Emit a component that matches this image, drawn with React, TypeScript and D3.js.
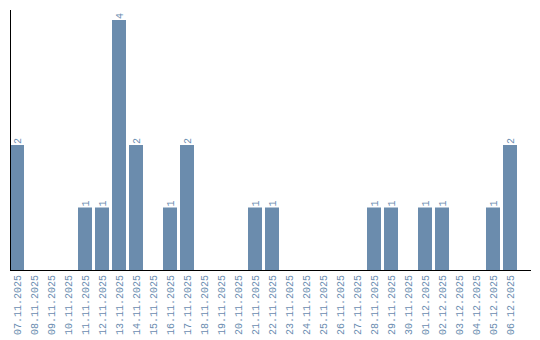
import React from "react";
import * as d3 from "d3";

const dates = [
  "07.11.2025", "08.11.2025", "09.11.2025", "10.11.2025", "11.11.2025",
  "12.11.2025", "13.11.2025", "14.11.2025", "15.11.2025", "16.11.2025",
  "17.11.2025", "18.11.2025", "19.11.2025", "20.11.2025", "21.11.2025",
  "22.11.2025", "23.11.2025", "24.11.2025", "25.11.2025", "26.11.2025",
  "27.11.2025", "28.11.2025", "29.11.2025", "30.11.2025", "01.12.2025",
  "02.12.2025", "03.12.2025", "04.12.2025", "05.12.2025", "06.12.2025",
];
const counts = [2, 0, 0, 0, 1, 1, 4, 2, 0, 1, 2, 0, 0, 0, 1, 1, 0, 0, 0, 0, 0, 1, 1, 0, 1, 1, 0, 0, 1, 2];

const W = 540;
const H = 340;
const left = 10;
const baseY = 270;
const topY = 10;
const barColor = "#6b8cad";
const textColor = "#6a8cb0";
const font = "'Liberation Mono', monospace";

export default function App() {
  const x = d3.scaleBand<string>().domain(dates).range([left, 517]).paddingInner(3 / 17).paddingOuter(0);
  const y = d3.scaleLinear().domain([0, 4.16]).range([baseY, topY]);
  return (
    <svg width={W} height={H} style={{ position: "absolute", left: 0, top: 0 }}>
      {dates.map((d, i) => {
        const v = counts[i];
        if (!v) return null;
        const bx = x(d)!;
        const by = y(v);
        return (
          <g key={d}>
            <rect x={bx} y={by} width={x.bandwidth()} height={baseY - by} fill={barColor} />
            <text
              transform={`translate(${bx + x.bandwidth() / 2},${by - 1}) rotate(-90)`}
              dy="0.35em"
              textAnchor="start"
              fontFamily={font}
              fontSize={10}
              fill={textColor}
            >
              {v}
            </text>
          </g>
        );
      })}
      {dates.map((d) => (
        <text
          key={"l" + d}
          transform={`translate(${x(d)! + x.bandwidth() / 2},275) rotate(-90)`}
          dy="0.35em"
          textAnchor="end"
          fontFamily={font}
          fontSize={10}
          fill={textColor}
        >
          {d}
        </text>
      ))}
      <line x1={left + 0.5} x2={left + 0.5} y1={topY} y2={baseY} stroke="#000" />
      <line x1={left} x2={531} y1={baseY + 0.5} y2={baseY + 0.5} stroke="#000" />
    </svg>
  );
}
